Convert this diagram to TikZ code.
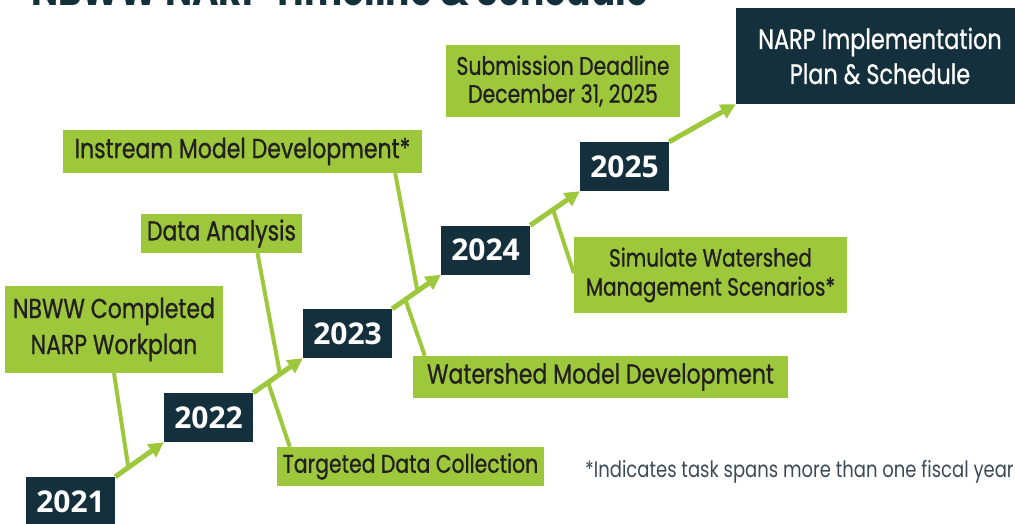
\documentclass[tikz,border=0pt]{standalone}
\usepackage{fontspec}
\setmainfont{Poppins}[FakeStretch=0.8]
\newfontfamily\taskfont{Poppins}[FakeStretch=0.8,FakeBold=0.8]
\newfontfamily\yearfont{Open Sans}
\usetikzlibrary{arrows.meta,backgrounds}
\definecolor{leaf}{HTML}{9DC83B}
\definecolor{navy}{HTML}{15303D}
\definecolor{ink}{HTML}{231F20}
\definecolor{slate}{HTML}{3B4A56}
\tikzset{
  task/.style={
      fill=leaf,
      text=ink,
      align=center,
      inner sep=0pt,
      font=\taskfont\fontsize{27.5}{30}\selectfont
      },
  year/.style={
      fill=navy,
      text=white,
      minimum width=89pt,
      minimum height=49pt,
      inner sep=0pt,
      font=\yearfont\bfseries\fontsize{30}{30}\selectfont
      },
  yeararrow/.style={leaf, line width=5pt, -{Triangle[length=15pt,width=15pt]}},
  link/.style={leaf, line width=4pt}
}

\begin{document}
\begin{tikzpicture}[x=1pt,y=-1pt]
\useasboundingbox (0,0) rectangle (1015,524);
\clip (0,0) rectangle (1015,524);
\node [anchor=base west, inner sep=0pt, text=navy, font=\bfseries\fontsize{45}{45}\selectfont] (title) at (31,6) {NBWW NARP Timeline \& Schedule};
% years
\node [year] (y2021) at (70.5,501.5) {2021};
\node [year] (y2022) at (208.5,417.5) {2022};
\node [year] (y2023) at (347.5,333.5) {2023};
\node [year] (y2024) at (485.5,250) {2024};
\node [year] (y2025) at (624.5,166.5) {2025};
\node [fill=navy, text=white, align=center, inner sep=0pt, minimum width=288pt, minimum height=96pt, font=\taskfont\fontsize{28}{35}\selectfont] (plan) at (880,56) {NARP Implementation\\Plan \& Schedule};
% tasks
\node [task, minimum width=218pt, minimum height=87pt, font=\taskfont\fontsize{27.5}{36}\selectfont] (nbww) at (114,329.5) {NBWW Completed\\NARP Workplan};
\node [task, minimum width=161pt, minimum height=39pt] (data) at (221.5,233.5) {Data Analysis};
\node [task, minimum width=359pt, minimum height=43pt] (instream) at (242.5,151.5) {Instream Model Development*};
\node [task, minimum width=234pt, minimum height=72pt, font=\taskfont\fontsize{25.5}{28}\selectfont] (deadline) at (563,81) {Submission Deadline\\December 31, 2025};
\node [task, minimum width=273pt, minimum height=76pt, font=\taskfont\fontsize{25}{29}\selectfont] (simulate) at (710.5,275) {Simulate Watershed\\Management Scenarios*};
\node [task, minimum width=375pt, minimum height=42pt] (watershed) at (600.5,377) {Watershed Model Development};
\node [task, minimum width=267pt, minimum height=39pt, font=\taskfont\fontsize{25.5}{30}\selectfont] (targeted) at (410.5,466.5) {Targeted Data Collection};
\node [anchor=west, inner sep=0pt, text=slate, font=\fontsize{22.5}{24}\selectfont] (note) at (585,472) {*Indicates task spans more than one fiscal year};
\begin{scope}[on background layer]
\draw [yeararrow] (y2021.north east) -- coordinate[pos=0.27] (a1) (y2022.south west);
\draw [yeararrow] (y2022.north east) -- coordinate[pos=0.3] (a2) coordinate[pos=0.54] (b2) (y2023.south west);
\draw [yeararrow] (y2023.north east) -- coordinate[pos=0.27] (a3) coordinate[pos=0.52] (b3) (y2024.south west);
\draw [yeararrow] (y2024.north east) -- coordinate[pos=0.46] (a4) (y2025.south west);
\draw [yeararrow] (y2025.north east) -- (plan.south west);
\draw [link] (nbww.south) -- (a1);
\draw [link] ([xshift=36pt]data.south) -- (b2);
\draw [link] ([xshift=13pt]targeted.north west) -- (a2);
\draw [link] ([xshift=-27pt]instream.south east) -- (b3);
\draw [link] ([xshift=12pt]watershed.north west) -- (a3);
\draw [link] ([yshift=2pt]simulate.west) -- (a4);
\end{scope}
\end{tikzpicture}
\end{document}
